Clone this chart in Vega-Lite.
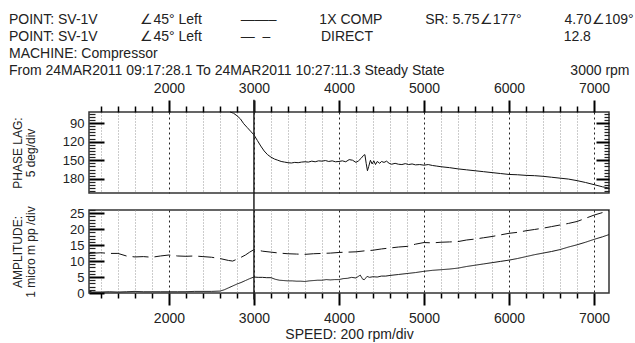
{
  "$schema": "https://vega.github.io/schema/vega-lite/v6.json",
  "background": "white",
  "padding": {"left": 8, "top": 12, "right": 7, "bottom": 4},
  "config": {
    "font": "Liberation Sans",
    "view": {"stroke": "#333", "strokeWidth": 1.5},
    "axis": {"domain": false, "labelColor": "#222", "titleColor": "#222", "titleFontWeight": "normal", "labelFont": "Liberation Sans", "titleFont": "Liberation Sans", "labelOverlap": false},
    "title": {"font": "Liberation Sans", "fontWeight": "normal", "color": "#222"}
  },
  "datasets": {
    "phase": [
      {"rpm": 2720, "lag": 72}, {"rpm": 2760, "lag": 74}, {"rpm": 2800, "lag": 78}, {"rpm": 2840, "lag": 83},
      {"rpm": 2880, "lag": 91}, {"rpm": 2920, "lag": 97}, {"rpm": 2960, "lag": 103}, {"rpm": 3000, "lag": 109},
      {"rpm": 3040, "lag": 118}, {"rpm": 3080, "lag": 127}, {"rpm": 3120, "lag": 135}, {"rpm": 3160, "lag": 141},
      {"rpm": 3200, "lag": 145}, {"rpm": 3240, "lag": 148}, {"rpm": 3280, "lag": 150}, {"rpm": 3320, "lag": 152},
      {"rpm": 3360, "lag": 153}, {"rpm": 3400, "lag": 154}, {"rpm": 3440, "lag": 154.5}, {"rpm": 3480, "lag": 153.5},
      {"rpm": 3520, "lag": 154}, {"rpm": 3560, "lag": 153}, {"rpm": 3600, "lag": 152.5}, {"rpm": 3640, "lag": 153},
      {"rpm": 3680, "lag": 151.5}, {"rpm": 3720, "lag": 152.5}, {"rpm": 3760, "lag": 151}, {"rpm": 3800, "lag": 151.5},
      {"rpm": 3840, "lag": 150.5}, {"rpm": 3880, "lag": 152}, {"rpm": 3920, "lag": 151}, {"rpm": 3960, "lag": 152.5},
      {"rpm": 4000, "lag": 152}, {"rpm": 4040, "lag": 151}, {"rpm": 4080, "lag": 152.5}, {"rpm": 4120, "lag": 149},
      {"rpm": 4160, "lag": 150}, {"rpm": 4200, "lag": 153.5}, {"rpm": 4230, "lag": 151}, {"rpm": 4260, "lag": 147},
      {"rpm": 4290, "lag": 142}, {"rpm": 4305, "lag": 141}, {"rpm": 4320, "lag": 155}, {"rpm": 4335, "lag": 167},
      {"rpm": 4350, "lag": 160}, {"rpm": 4370, "lag": 150}, {"rpm": 4390, "lag": 156}, {"rpm": 4410, "lag": 151},
      {"rpm": 4430, "lag": 157}, {"rpm": 4450, "lag": 152}, {"rpm": 4480, "lag": 155}, {"rpm": 4500, "lag": 152},
      {"rpm": 4530, "lag": 153.5}, {"rpm": 4560, "lag": 151.5}, {"rpm": 4590, "lag": 155}, {"rpm": 4620, "lag": 156.5},
      {"rpm": 4660, "lag": 155}, {"rpm": 4700, "lag": 156.5}, {"rpm": 4740, "lag": 157}, {"rpm": 4780, "lag": 155.5},
      {"rpm": 4820, "lag": 157}, {"rpm": 4860, "lag": 156}, {"rpm": 4900, "lag": 157.5}, {"rpm": 4950, "lag": 157},
      {"rpm": 5000, "lag": 158}, {"rpm": 5050, "lag": 157}, {"rpm": 5100, "lag": 158.5}, {"rpm": 5150, "lag": 159.5},
      {"rpm": 5200, "lag": 160.5}, {"rpm": 5300, "lag": 162}, {"rpm": 5400, "lag": 164}, {"rpm": 5500, "lag": 165.5},
      {"rpm": 5600, "lag": 167}, {"rpm": 5700, "lag": 168.5}, {"rpm": 5800, "lag": 170}, {"rpm": 5900, "lag": 171.5},
      {"rpm": 6000, "lag": 173}, {"rpm": 6100, "lag": 173.5}, {"rpm": 6200, "lag": 174.5}, {"rpm": 6300, "lag": 175},
      {"rpm": 6400, "lag": 176}, {"rpm": 6500, "lag": 177.5}, {"rpm": 6600, "lag": 179}, {"rpm": 6700, "lag": 180.5},
      {"rpm": 6800, "lag": 183}, {"rpm": 6900, "lag": 186}, {"rpm": 7000, "lag": 189.5}, {"rpm": 7100, "lag": 193},
      {"rpm": 7176, "lag": 195}
    ],
    "amp": [
      {"rpm": 1060, "amp": 0.6, "series": "1X COMP"}, {"rpm": 1100, "amp": 0.3, "series": "1X COMP"}, {"rpm": 1200, "amp": 0.3, "series": "1X COMP"},
      {"rpm": 1300, "amp": 0.4, "series": "1X COMP"}, {"rpm": 1400, "amp": 0.3, "series": "1X COMP"}, {"rpm": 1500, "amp": 0.4, "series": "1X COMP"},
      {"rpm": 1600, "amp": 0.5, "series": "1X COMP"}, {"rpm": 1700, "amp": 0.4, "series": "1X COMP"}, {"rpm": 1800, "amp": 0.4, "series": "1X COMP"},
      {"rpm": 1900, "amp": 0.4, "series": "1X COMP"}, {"rpm": 2000, "amp": 0.4, "series": "1X COMP"}, {"rpm": 2100, "amp": 0.4, "series": "1X COMP"},
      {"rpm": 2200, "amp": 0.4, "series": "1X COMP"}, {"rpm": 2300, "amp": 0.5, "series": "1X COMP"}, {"rpm": 2400, "amp": 0.5, "series": "1X COMP"},
      {"rpm": 2500, "amp": 0.5, "series": "1X COMP"}, {"rpm": 2600, "amp": 0.6, "series": "1X COMP"}, {"rpm": 2650, "amp": 1.0, "series": "1X COMP"},
      {"rpm": 2700, "amp": 1.6, "series": "1X COMP"}, {"rpm": 2750, "amp": 2.2, "series": "1X COMP"}, {"rpm": 2800, "amp": 2.8, "series": "1X COMP"},
      {"rpm": 2850, "amp": 3.3, "series": "1X COMP"}, {"rpm": 2900, "amp": 3.9, "series": "1X COMP"}, {"rpm": 2950, "amp": 4.5, "series": "1X COMP"},
      {"rpm": 3000, "amp": 5.0, "series": "1X COMP"}, {"rpm": 3050, "amp": 4.9, "series": "1X COMP"}, {"rpm": 3100, "amp": 4.9, "series": "1X COMP"},
      {"rpm": 3150, "amp": 4.8, "series": "1X COMP"}, {"rpm": 3200, "amp": 4.8, "series": "1X COMP"}, {"rpm": 3250, "amp": 4.3, "series": "1X COMP"},
      {"rpm": 3300, "amp": 4.0, "series": "1X COMP"}, {"rpm": 3350, "amp": 3.9, "series": "1X COMP"}, {"rpm": 3400, "amp": 3.8, "series": "1X COMP"},
      {"rpm": 3450, "amp": 3.8, "series": "1X COMP"}, {"rpm": 3500, "amp": 3.7, "series": "1X COMP"}, {"rpm": 3550, "amp": 3.7, "series": "1X COMP"},
      {"rpm": 3600, "amp": 3.6, "series": "1X COMP"}, {"rpm": 3650, "amp": 3.8, "series": "1X COMP"}, {"rpm": 3700, "amp": 3.9, "series": "1X COMP"},
      {"rpm": 3750, "amp": 4.0, "series": "1X COMP"}, {"rpm": 3800, "amp": 4.0, "series": "1X COMP"}, {"rpm": 3850, "amp": 4.2, "series": "1X COMP"},
      {"rpm": 3900, "amp": 4.1, "series": "1X COMP"}, {"rpm": 3950, "amp": 4.2, "series": "1X COMP"}, {"rpm": 4000, "amp": 4.2, "series": "1X COMP"},
      {"rpm": 4050, "amp": 4.5, "series": "1X COMP"}, {"rpm": 4100, "amp": 4.6, "series": "1X COMP"}, {"rpm": 4150, "amp": 4.9, "series": "1X COMP"},
      {"rpm": 4200, "amp": 4.7, "series": "1X COMP"}, {"rpm": 4250, "amp": 5.6, "series": "1X COMP"}, {"rpm": 4280, "amp": 4.3, "series": "1X COMP"},
      {"rpm": 4300, "amp": 4.2, "series": "1X COMP"}, {"rpm": 4330, "amp": 5.2, "series": "1X COMP"}, {"rpm": 4360, "amp": 4.9, "series": "1X COMP"},
      {"rpm": 4400, "amp": 5.1, "series": "1X COMP"}, {"rpm": 4450, "amp": 5.0, "series": "1X COMP"}, {"rpm": 4500, "amp": 5.3, "series": "1X COMP"},
      {"rpm": 4550, "amp": 5.3, "series": "1X COMP"}, {"rpm": 4600, "amp": 5.5, "series": "1X COMP"}, {"rpm": 4700, "amp": 5.8, "series": "1X COMP"},
      {"rpm": 4800, "amp": 6.1, "series": "1X COMP"}, {"rpm": 4900, "amp": 6.4, "series": "1X COMP"}, {"rpm": 5000, "amp": 6.8, "series": "1X COMP"},
      {"rpm": 5100, "amp": 7.1, "series": "1X COMP"}, {"rpm": 5200, "amp": 7.3, "series": "1X COMP"}, {"rpm": 5300, "amp": 7.5, "series": "1X COMP"},
      {"rpm": 5400, "amp": 7.8, "series": "1X COMP"}, {"rpm": 5500, "amp": 8.3, "series": "1X COMP"}, {"rpm": 5600, "amp": 8.7, "series": "1X COMP"},
      {"rpm": 5700, "amp": 9.1, "series": "1X COMP"}, {"rpm": 5800, "amp": 9.5, "series": "1X COMP"}, {"rpm": 5900, "amp": 9.9, "series": "1X COMP"},
      {"rpm": 6000, "amp": 10.3, "series": "1X COMP"}, {"rpm": 6100, "amp": 10.8, "series": "1X COMP"}, {"rpm": 6200, "amp": 11.4, "series": "1X COMP"},
      {"rpm": 6300, "amp": 12.0, "series": "1X COMP"}, {"rpm": 6400, "amp": 12.5, "series": "1X COMP"}, {"rpm": 6500, "amp": 13.0, "series": "1X COMP"},
      {"rpm": 6600, "amp": 13.6, "series": "1X COMP"}, {"rpm": 6700, "amp": 14.4, "series": "1X COMP"}, {"rpm": 6800, "amp": 15.1, "series": "1X COMP"},
      {"rpm": 6900, "amp": 15.9, "series": "1X COMP"}, {"rpm": 7000, "amp": 16.8, "series": "1X COMP"}, {"rpm": 7100, "amp": 17.6, "series": "1X COMP"},
      {"rpm": 7176, "amp": 18.3, "series": "1X COMP"},
      {"rpm": 1060, "amp": 12.4, "series": "DIRECT"}, {"rpm": 1200, "amp": 12.6, "series": "DIRECT"}, {"rpm": 1300, "amp": 12.4, "series": "DIRECT"},
      {"rpm": 1400, "amp": 12.4, "series": "DIRECT"}, {"rpm": 1500, "amp": 11.6, "series": "DIRECT"}, {"rpm": 1600, "amp": 11.3, "series": "DIRECT"},
      {"rpm": 1700, "amp": 11.4, "series": "DIRECT"}, {"rpm": 1800, "amp": 11.2, "series": "DIRECT"}, {"rpm": 1900, "amp": 11.6, "series": "DIRECT"},
      {"rpm": 2000, "amp": 11.9, "series": "DIRECT"}, {"rpm": 2100, "amp": 11.6, "series": "DIRECT"}, {"rpm": 2200, "amp": 11.5, "series": "DIRECT"},
      {"rpm": 2300, "amp": 11.6, "series": "DIRECT"}, {"rpm": 2400, "amp": 11.4, "series": "DIRECT"}, {"rpm": 2500, "amp": 11.2, "series": "DIRECT"},
      {"rpm": 2600, "amp": 10.8, "series": "DIRECT"}, {"rpm": 2700, "amp": 10.2, "series": "DIRECT"}, {"rpm": 2750, "amp": 10.0, "series": "DIRECT"},
      {"rpm": 2800, "amp": 10.6, "series": "DIRECT"}, {"rpm": 2850, "amp": 11.2, "series": "DIRECT"}, {"rpm": 2900, "amp": 11.9, "series": "DIRECT"},
      {"rpm": 2950, "amp": 12.8, "series": "DIRECT"}, {"rpm": 3000, "amp": 13.6, "series": "DIRECT"}, {"rpm": 3050, "amp": 13.4, "series": "DIRECT"},
      {"rpm": 3100, "amp": 13.1, "series": "DIRECT"}, {"rpm": 3200, "amp": 12.8, "series": "DIRECT"}, {"rpm": 3300, "amp": 12.5, "series": "DIRECT"},
      {"rpm": 3400, "amp": 12.3, "series": "DIRECT"}, {"rpm": 3500, "amp": 12.2, "series": "DIRECT"}, {"rpm": 3600, "amp": 12.1, "series": "DIRECT"},
      {"rpm": 3700, "amp": 12.3, "series": "DIRECT"}, {"rpm": 3800, "amp": 12.4, "series": "DIRECT"}, {"rpm": 3900, "amp": 12.5, "series": "DIRECT"},
      {"rpm": 4000, "amp": 12.7, "series": "DIRECT"}, {"rpm": 4100, "amp": 12.8, "series": "DIRECT"}, {"rpm": 4200, "amp": 12.9, "series": "DIRECT"},
      {"rpm": 4300, "amp": 13.2, "series": "DIRECT"}, {"rpm": 4400, "amp": 13.4, "series": "DIRECT"}, {"rpm": 4500, "amp": 13.8, "series": "DIRECT"},
      {"rpm": 4600, "amp": 14.1, "series": "DIRECT"}, {"rpm": 4700, "amp": 14.4, "series": "DIRECT"}, {"rpm": 4800, "amp": 14.6, "series": "DIRECT"},
      {"rpm": 4900, "amp": 15.3, "series": "DIRECT"}, {"rpm": 5000, "amp": 15.8, "series": "DIRECT"}, {"rpm": 5100, "amp": 15.7, "series": "DIRECT"},
      {"rpm": 5200, "amp": 15.9, "series": "DIRECT"}, {"rpm": 5300, "amp": 16.0, "series": "DIRECT"}, {"rpm": 5400, "amp": 16.1, "series": "DIRECT"},
      {"rpm": 5500, "amp": 16.6, "series": "DIRECT"}, {"rpm": 5600, "amp": 16.9, "series": "DIRECT"}, {"rpm": 5700, "amp": 17.3, "series": "DIRECT"},
      {"rpm": 5800, "amp": 17.7, "series": "DIRECT"}, {"rpm": 5900, "amp": 18.2, "series": "DIRECT"}, {"rpm": 6000, "amp": 18.7, "series": "DIRECT"},
      {"rpm": 6100, "amp": 19.0, "series": "DIRECT"}, {"rpm": 6200, "amp": 19.5, "series": "DIRECT"}, {"rpm": 6300, "amp": 19.9, "series": "DIRECT"},
      {"rpm": 6400, "amp": 20.3, "series": "DIRECT"}, {"rpm": 6500, "amp": 20.8, "series": "DIRECT"}, {"rpm": 6600, "amp": 21.3, "series": "DIRECT"},
      {"rpm": 6700, "amp": 21.8, "series": "DIRECT"}, {"rpm": 6800, "amp": 22.4, "series": "DIRECT"}, {"rpm": 6900, "amp": 23.4, "series": "DIRECT"},
      {"rpm": 7000, "amp": 24.4, "series": "DIRECT"}, {"rpm": 7100, "amp": 25.2, "series": "DIRECT"}, {"rpm": 7176, "amp": 25.8, "series": "DIRECT"}
    ],
    "cursor": [{"rpm": 3000}]
  },
  "bounds": "flush",
  "spacing": 17,
  "vconcat": [
    {
      "width": 520,
      "height": 81,
      "title": {
        "text": [
          "POINT: SV-1V\u00a0\u00a0\u00a0\u00a0\u00a0\u00a0\u00a0\u00a0\u00a0\u00a0\u00a0\u222045\u00b0 Left\u00a0\u00a0\u00a0\u00a0\u00a0\u00a0\u00a0\u00a0\u00a0\u00a0\u2014\u2014\u2013\u00a0\u00a0\u00a0\u00a0\u00a0\u00a0\u00a0\u00a0\u00a0\u00a0\u00a01X COMP\u00a0\u00a0\u00a0\u00a0\u00a0\u00a0\u00a0\u00a0\u00a0\u00a0\u00a0SR: 5.75\u2220177\u00b0\u00a0\u00a0\u00a0\u00a0\u00a0\u00a0\u00a0\u00a0\u00a0\u00a0\u00a04.70\u2220109\u00b0",
          "POINT: SV-1V\u00a0\u00a0\u00a0\u00a0\u00a0\u00a0\u00a0\u00a0\u00a0\u00a0\u00a0\u222045\u00b0 Left\u00a0\u00a0\u00a0\u00a0\u00a0\u00a0\u00a0\u00a0\u00a0\u00a0\u2014\u00a0\u00a0\u2013\u00a0\u00a0\u00a0\u00a0\u00a0\u00a0\u00a0\u00a0\u00a0\u00a0\u00a0\u00a0\u00a0DIRECT\u00a0\u00a0\u00a0\u00a0\u00a0\u00a0\u00a0\u00a0\u00a0\u00a0\u00a0\u00a0\u00a0\u00a0\u00a0\u00a0\u00a0\u00a0\u00a0\u00a0\u00a0\u00a0\u00a0\u00a0\u00a0\u00a0\u00a0\u00a0\u00a0\u00a0\u00a0\u00a0\u00a0\u00a0\u00a0\u00a0\u00a0\u00a0\u00a0\u00a0\u00a0\u00a0\u00a0\u00a0\u00a0\u00a0\u00a0\u00a0\u00a012.8",
          "MACHINE: Compressor",
          "From 24MAR2011 09:17:28.1 To 24MAR2011 10:27:11.3 Steady State"
        ],
        "anchor": "start",
        "frame": "group",
        "dx": -80,
        "offset": -15,
        "fontSize": 14,
        "lineHeight": 17
      },
      "layer": [
        {
          "data": {"name": "phase"},
          "mark": {"type": "line", "color": "#111", "strokeWidth": 1},
          "encoding": {
            "x": {
              "field": "rpm", "type": "quantitative",
              "scale": {"domain": [1060, 7176], "nice": false, "zero": false},
              "axis": {
                "orient": "top",
                "values": [2000, 3000, 4000, 5000, 6000, 7000],
                "format": "d",
                "tickSize": 12,
                "tickColor": "#000",
                "tickWidth": 2,
                "labelPadding": 5,
                "labelFontSize": 14,
                "grid": true,
                "gridColor": "#222",
                "gridDash": [2, 3],
                "gridWidth": 1,
                "title": "3000 rpm",
                "titleFontSize": 14,
                "titleAlign": "right",
                "titleBaseline": "middle",
                "titleX": 540,
                "titleY": -42
              }
            },
            "y": {
              "field": "lag", "type": "quantitative",
              "scale": {"domain": [72, 203], "reverse": true, "nice": false, "zero": false},
              "axis": {
                "orient": "left",
                "values": [90, 120, 150, 180],
                "tickSize": -15,
                "tickColor": "#000",
                "tickWidth": 2,
                "labelPadding": 20,
                "labelFontSize": 13,
                "grid": false,
                "title": ["PHASE LAG:", "5 deg/div"],
                "titleFontSize": 12,
                "titleLineHeight": 13,
                "titlePadding": 25
              }
            }
          }
        },
        {
          "data": {"name": "cursor"},
          "mark": {"type": "rule", "color": "#222", "strokeWidth": 1.5},
          "encoding": {
            "x": {
              "field": "rpm", "type": "quantitative",
              "axis": {
                "orient": "top",
                "values": [1200, 1400, 1600, 1800, 2200, 2400, 2600, 2800, 3200, 3400, 3600, 3800, 4200, 4400, 4600, 4800, 5200, 5400, 5600, 5800, 6200, 6400, 6600, 6800],
                "tickSize": 6,
                "tickColor": "#000",
                "tickWidth": 1.5,
                "labels": false,
                "grid": true,
                "gridColor": "#999",
                "gridDash": [1, 2],
                "gridWidth": 1,
                "title": null
              }
            },
            "y": {"datum": 52, "type": "quantitative", "axis": null},
            "y2": {"datum": 230}
          }
        },
        {
          "data": {"name": "phase"},
          "mark": {"type": "line", "opacity": 0},
          "encoding": {
            "x": {"field": "rpm", "type": "quantitative", "axis": null},
            "y": {
              "field": "lag", "type": "quantitative",
              "axis": {"orient": "left", "values": [75, 80, 85, 95, 100, 105, 110, 115, 125, 130, 135, 140, 145, 155, 160, 165, 170, 175, 185, 190, 195, 200], "labels": false, "tickSize": -6, "tickColor": "#222", "tickWidth": 1.2, "grid": false, "title": null}
            }
          }
        },
        {
          "data": {"name": "phase"},
          "mark": {"type": "line", "opacity": 0},
          "encoding": {
            "x": {"field": "rpm", "type": "quantitative", "axis": null},
            "y": {
              "field": "lag", "type": "quantitative",
              "axis": {"orient": "right", "values": [90, 120, 150, 180], "labels": false, "tickSize": -13, "tickColor": "#000", "tickWidth": 2, "grid": false, "title": null}
            }
          }
        },
        {
          "data": {"name": "phase"},
          "mark": {"type": "line", "opacity": 0},
          "encoding": {
            "x": {"field": "rpm", "type": "quantitative", "axis": null},
            "y": {
              "field": "lag", "type": "quantitative",
              "axis": {"orient": "right", "values": [75, 80, 85, 95, 100, 105, 110, 115, 125, 130, 135, 140, 145, 155, 160, 165, 170, 175, 185, 190, 195, 200], "labels": false, "tickSize": -5, "tickColor": "#222", "tickWidth": 1.2, "grid": false, "title": null}
            }
          }
        }
      ],
      "resolve": {"axis": {"x": "independent", "y": "independent"}}
    },
    {
      "width": 520,
      "height": 83,
      "layer": [
        {
          "data": {"name": "amp"},
          "mark": {"type": "line", "color": "#111", "strokeWidth": 1},
          "encoding": {
            "x": {
              "field": "rpm", "type": "quantitative",
              "scale": {"domain": [1060, 7176], "nice": false, "zero": false},
              "axis": {
                "orient": "bottom",
                "values": [2000, 3000, 4000, 5000, 6000, 7000],
                "format": "d",
                "tickSize": 12,
                "tickColor": "#000",
                "tickWidth": 2,
                "labelPadding": 6,
                "labelFontSize": 14,
                "grid": true,
                "gridColor": "#222",
                "gridDash": [2, 3],
                "gridWidth": 1,
                "title": "SPEED: 200 rpm/div",
                "titleFontSize": 14,
                "titlePadding": 2
              }
            },
            "y": {
              "field": "amp", "type": "quantitative",
              "scale": {"domain": [0, 26], "nice": false, "zero": false},
              "axis": {
                "orient": "left",
                "values": [0, 5, 10, 15, 20, 25],
                "tickSize": -15,
                "tickColor": "#000",
                "tickWidth": 2,
                "labelPadding": 20,
                "labelFontSize": 13,
                "grid": false,
                "title": ["AMPLITUDE:", "1 micro m pp /div"],
                "titleFontSize": 12,
                "titleLineHeight": 13,
                "titlePadding": 32
              }
            },
            "strokeDash": {
              "field": "series", "type": "nominal",
              "scale": {"domain": ["1X COMP", "DIRECT"], "range": [[1, 0], [16, 6]]},
              "legend": null
            }
          }
        },
        {
          "data": {"name": "cursor"},
          "mark": {"type": "rule", "color": "#222", "strokeWidth": 1.5},
          "encoding": {
            "x": {
              "field": "rpm", "type": "quantitative",
              "axis": {
                "orient": "bottom",
                "values": [1200, 1400, 1600, 1800, 2200, 2400, 2600, 2800, 3200, 3400, 3600, 3800, 4200, 4400, 4600, 4800, 5200, 5400, 5600, 5800, 6200, 6400, 6600, 6800],
                "tickSize": 5,
                "tickColor": "#000",
                "tickWidth": 1.5,
                "labels": false,
                "grid": true,
                "gridColor": "#999",
                "gridDash": [1, 2],
                "gridWidth": 1,
                "title": null
              }
            },
            "y": {"datum": -2, "type": "quantitative", "axis": null},
            "y2": {"datum": 26}
          }
        },
        {
          "data": {"name": "amp"},
          "mark": {"type": "line", "opacity": 0},
          "encoding": {
            "x": {"field": "rpm", "type": "quantitative", "axis": null},
            "y": {
              "field": "amp", "type": "quantitative",
              "axis": {"orient": "left", "values": [1, 2, 3, 4, 6, 7, 8, 9, 11, 12, 13, 14, 16, 17, 18, 19, 21, 22, 23, 24, 26], "labels": false, "tickSize": -6, "tickColor": "#222", "tickWidth": 1.2, "grid": false, "title": null}
            },
            "detail": {"field": "series", "type": "nominal"}
          }
        }
      ],
      "resolve": {"axis": {"x": "independent", "y": "independent"}}
    }
  ]
}
